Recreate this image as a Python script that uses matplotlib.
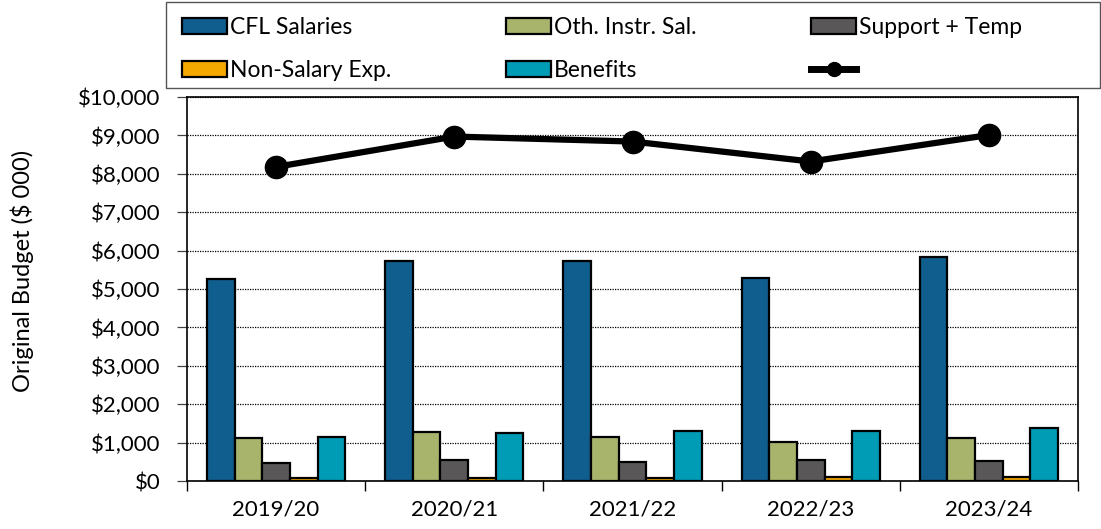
import matplotlib.pyplot as plt
import numpy as np
from matplotlib.patches import Patch, Rectangle
from matplotlib.lines import Line2D
from matplotlib.ticker import FuncFormatter, FixedLocator

plt.rcParams['font.family'] = ['Lato', 'DejaVu Sans']

# данные (тыс. $)
years = ["2019/20", "2020/21", "2021/22", "2022/23", "2023/24"]
cfl_salaries = [5270, 5740, 5740, 5290, 5830]
oth_instr_sal = [1130, 1280, 1140, 1010, 1120]
support_temp = [460, 550, 490, 550, 520]
non_salary = [80, 80, 80, 100, 100]
benefits = [1150, 1240, 1300, 1290, 1380]
total = [8180, 8970, 8840, 8320, 9010]

series = [
    ("CFL Salaries", cfl_salaries, "#0F5E8E"),
    ("Oth. Instr. Sal.", oth_instr_sal, "#A8B46C"),
    ("Support + Temp", support_temp, "#595757"),
    ("Non-Salary Exp.", non_salary, "#F5A800"),
    ("Benefits", benefits, "#009BB5"),
]

fig = plt.figure(figsize=(11.01, 5.29), dpi=100)
ax = fig.add_axes([187 / 1101, 1 - 481 / 529, (1078 - 187) / 1101, (481 - 97) / 529])

x = np.arange(len(years))
w = 0.155
handles = {}
for i, (name, vals, col) in enumerate(series):
    ax.bar(x + (i - 2) * w, vals, w, color=col, edgecolor="black", linewidth=1.6, zorder=3)
    handles[name] = Patch(facecolor=col, edgecolor="black", linewidth=1.6)

ax.plot(x, total, color="black", linewidth=4.5, marker="o", markersize=16, zorder=4)
line_handle = Line2D([], [], color="black", linewidth=5, marker="o", markersize=10)

ax.set_xlim(-0.5, len(years) - 0.5)
ax.set_ylim(0, 10000)
ax.set_yticks(np.arange(0, 10001, 1000))
ax.yaxis.set_major_formatter(FuncFormatter(lambda v, p: f"${v:,.0f}"))
ax.grid(axis="y", linestyle=(0, (1, 1)), color="black", linewidth=0.9, zorder=0)
ax.tick_params(axis="y", direction="out", length=7, width=0.9, color="#444444", labelsize=16, pad=12)
for t in ax.yaxis.get_major_ticks():
    t.tick1line.set_linestyle((0, (1, 1)))

# подписи по центрам, засечки по границам категорий
ax.xaxis.set_major_locator(FixedLocator(np.arange(-0.5, len(years), 1.0)))
ax.xaxis.set_minor_locator(FixedLocator(x))
ax.set_xticklabels([])
ax.set_xticklabels(years, minor=True)
ax.tick_params(axis="x", which="major", direction="out", length=7, width=1, color="black")
ax.tick_params(axis="x", which="minor", length=0, labelsize=16, pad=13)

for s in ax.spines.values():
    s.set_color("black")
    s.set_linewidth(1.2)
    s.set_zorder(5)

fig.text(22 / 1101, 1 - 271 / 529, "Original Budget ($ 000)", rotation=90,
         ha="center", va="center", fontsize=17)

# рамка легенды
fig.patches.append(Rectangle((166 / 1101, 1 - 88 / 529), (1100 - 166) / 1101, 86 / 529,
                             transform=fig.transFigure, fill=False,
                             edgecolor="#555555", linewidth=1.0))

order = [handles["CFL Salaries"], handles["Non-Salary Exp."],
         handles["Oth. Instr. Sal."], handles["Benefits"],
         handles["Support + Temp"], line_handle]
labels = ["CFL Salaries", "Non-Salary Exp.", "Oth. Instr. Sal.", "Benefits", "Support + Temp", ""]
leg = fig.legend(order, labels, ncol=3, loc="upper left",
                 bbox_to_anchor=(182 / 1101, 1 - 17 / 529),
                 fontsize=16.5, frameon=False,
                 handlelength=1.95, handleheight=0.7, handletextpad=0.15,
                 borderaxespad=0, borderpad=0, labelspacing=0.95, columnspacing=5.0)

fig.savefig("out.png", dpi=100)
